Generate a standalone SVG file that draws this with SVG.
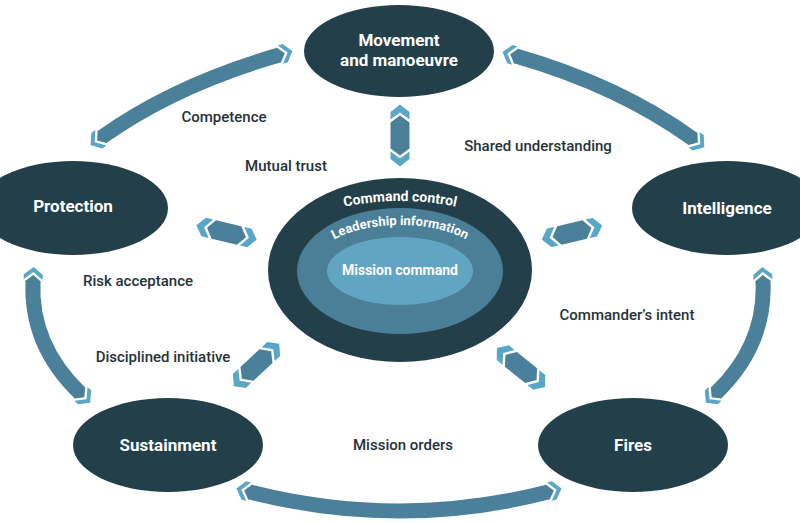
<svg xmlns="http://www.w3.org/2000/svg" xmlns:xlink="http://www.w3.org/1999/xlink" width="800" height="523" viewBox="0 0 800 523">
  <style>
    .node { fill: #233f49; }
    .ntext { font-family: Roboto, "Liberation Sans", sans-serif; font-weight: bold; font-size: 17px; fill: #ffffff; text-anchor: middle; }
    .label { font-family: Roboto, "Liberation Sans", sans-serif; font-weight: 500; font-size: 15px; fill: #263238; text-anchor: middle; }
    .band { fill: none; stroke: #4a8099; stroke-width: 15; marker-start: url(#tip); marker-end: url(#tip); }
    .ctext { font-family: Roboto, "Liberation Sans", sans-serif; font-weight: bold; fill: #ffffff; }
  </style>
  <defs>
    <marker id="tip" markerUnits="userSpaceOnUse" orient="auto-start-reverse" refX="0" refY="0" markerWidth="30" markerHeight="30" viewBox="-15 -15 30 30" overflow="visible">
      <polygon points="-1,-7.5 0,-7.5 6,0 0,7.5 -1,7.5" fill="#4a8099"/>
      <polygon points="1.4,-9.5 6.4,-9.5 14,0 6.4,9.5 1.4,9.5 9,0" fill="#5aa6c8"/>
    </marker>
    <g id="dbl">
      <polygon points="-20,0 -13,-9.5 13,-9.5 20,0 13,9.5 -13,9.5" fill="#4a8099"/>
      <polygon points="16,-9.5 23.5,-9.5 31,0 23.5,9.5 16,9.5 23,0" fill="#5aa6c8"/>
      <polygon points="-16,-9.5 -23.5,-9.5 -31,0 -23.5,9.5 -16,9.5 -23,0" fill="#5aa6c8"/>
    </g>
    <path id="arcOuter" d="M 260,270 A 140 69 0 0 1 540,270"/>
    <path id="arcMid" d="M 310,270 A 90 45 0 0 1 490,270"/>
  </defs>

  <g id="connectors">
    <path class="band" d="M 102,137 Q 175,85 279,55"/>
    <path class="band" d="M 516,56 Q 620,86 693,139"/>
    <path class="band" d="M 33,281 Q 30,345 80,393"/>
    <path class="band" d="M 763,281 Q 766,345 716,393"/>
    <path class="band" d="M 250,492 Q 400,530 548,492"/>
    <use href="#dbl" transform="translate(400,135.5) rotate(90)"/>
    <use href="#dbl" transform="translate(226.5,232.5) rotate(13.4)"/>
    <use href="#dbl" transform="translate(572,232.5) rotate(-13.2)"/>
    <use href="#dbl" transform="translate(256.5,365) rotate(-43)"/>
    <use href="#dbl" transform="translate(521,367.5) rotate(39)"/>
  </g>

  <g id="center">
    <ellipse cx="400" cy="270" rx="132" ry="92" fill="#233f49"/>
    <ellipse cx="400" cy="271" rx="103" ry="63" fill="#4b7f98"/>
    <ellipse cx="400" cy="271" rx="73" ry="34" fill="#62a5c2"/>
    <text class="ctext" font-size="14"><textPath href="#arcOuter" startOffset="50%" text-anchor="middle">Command control</textPath></text>
    <text class="ctext" font-size="13"><textPath href="#arcMid" startOffset="50%" text-anchor="middle">Leadership information</textPath></text>
    <text class="ctext" x="400" y="275" font-size="14" text-anchor="middle">Mission command</text>
  </g>

  <g id="movement">
    <ellipse class="node" cx="399" cy="51" rx="95" ry="46"/>
    <text class="ntext" x="399" y="46">Movement</text>
    <text class="ntext" x="399" y="66">and manoeuvre</text>
  </g>
  <g id="protection">
    <ellipse class="node" cx="73" cy="208" rx="95" ry="47"/>
    <text class="ntext" x="73" y="212">Protection</text>
  </g>
  <g id="intelligence">
    <ellipse class="node" cx="727" cy="208" rx="95" ry="47"/>
    <text class="ntext" x="727" y="214">Intelligence</text>
  </g>
  <g id="sustainment">
    <ellipse class="node" cx="168" cy="445" rx="95" ry="47"/>
    <text class="ntext" x="168" y="451">Sustainment</text>
  </g>
  <g id="fires">
    <ellipse class="node" cx="633" cy="445" rx="95" ry="47"/>
    <text class="ntext" x="633" y="451">Fires</text>
  </g>

  <g id="labels">
    <text class="label" x="224" y="122">Competence</text>
    <text class="label" x="286" y="171">Mutual trust</text>
    <text class="label" x="538" y="151">Shared understanding</text>
    <text class="label" x="138" y="286">Risk acceptance</text>
    <text class="label" x="163" y="362">Disciplined initiative</text>
    <text class="label" x="627" y="320">Commander’s intent</text>
    <text class="label" x="403" y="450">Mission orders</text>
  </g>
</svg>
